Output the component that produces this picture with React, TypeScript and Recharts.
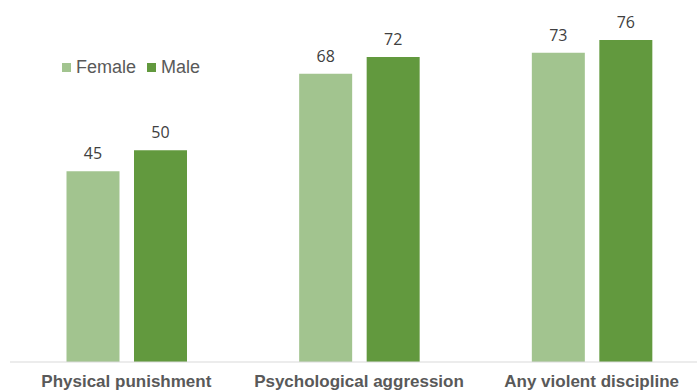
import React from "react";
import { BarChart, Bar, XAxis, YAxis, LabelList } from "recharts";

const categories = ["Physical punishment", "Psychological aggression", "Any violent discipline"];
const femaleValues = [45, 68, 73];
const maleValues = [50, 72, 76];

const FEMALE_COLOR = "#A2C48F";
const MALE_COLOR = "#62993E";

const series = [
  { key: "Female", color: FEMALE_COLOR },
  { key: "Male", color: MALE_COLOR },
];

const data = categories.map((name, i) => ({
  name,
  Female: femaleValues[i],
  Male: maleValues[i],
}));

const CategoryTick = (props: any) => {
  const { x, y, payload } = props;
  return (
    <text
      x={x}
      y={y + 17}
      textAnchor="middle"
      fill="#595959"
      fontSize={17}
      fontWeight="bold"
      fontFamily="Liberation Sans, Arial, sans-serif"
    >
      {payload.value}
    </text>
  );
};

export default function App() {
  return (
    <div style={{ position: "fixed", left: 0, top: 0, width: 697, height: 392, overflow: "hidden", background: "#fff" }}>
      <BarChart
        width={710}
        height={392}
        data={data}
        margin={{ top: 23, right: 2, bottom: 0, left: 10 }}
        barCategoryGap={56.5}
        barGap={14.5}
      >
        <XAxis
          dataKey="name"
          tickLine={false}
          axisLine={{ stroke: "#D9D9D9", strokeWidth: 1 }}
          height={30}
          interval={0}
          tick={<CategoryTick />}
        />
        <YAxis hide domain={[0, 80]} />
        <Bar dataKey="Female" fill={FEMALE_COLOR} isAnimationActive={false}>
          <LabelList dataKey="Female" position="top" offset={12} fill="#404040" fontSize={16} fontFamily="Open Sans, sans-serif" />
        </Bar>
        <Bar dataKey="Male" fill={MALE_COLOR} isAnimationActive={false}>
          <LabelList dataKey="Male" position="top" offset={12} fill="#404040" fontSize={16} fontFamily="Open Sans, sans-serif" />
        </Bar>
      </BarChart>
      <div
        style={{
          position: "absolute",
          top: 57,
          left: 62,
          display: "flex",
          alignItems: "center",
          fontFamily: "Liberation Sans, Arial, sans-serif",
          fontSize: 18,
          color: "#595959",
          lineHeight: "20px",
        }}
      >
        {series.map((s) => (
          <div key={s.key} style={{ display: "flex", alignItems: "center", marginRight: 11 }}>
            <span style={{ display: "inline-block", width: 9, height: 9, background: s.color, marginRight: 5 }} />
            <span>{s.key}</span>
          </div>
        ))}
      </div>
    </div>
  );
}
